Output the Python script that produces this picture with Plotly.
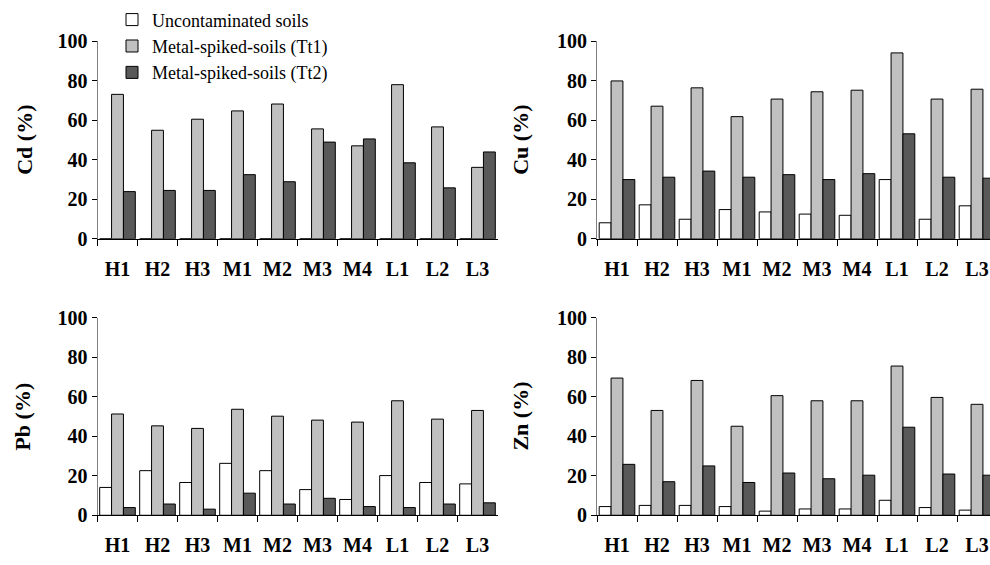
import plotly.graph_objects as go

categories = ["H1", "H2", "H3", "M1", "M2", "M3", "M4", "L1", "L2", "L3"]
series_names = ["Uncontaminated soils", "Metal-spiked-soils (Tt1)", "Metal-spiked-soils (Tt2)"]

cd_unc = [0, 0, 0, 0, 0, 0, 0, 0, 0, 0]
cd_tt1 = [73.2, 55.0, 60.6, 64.8, 68.3, 55.7, 47.1, 78.1, 56.7, 36.2]
cd_tt2 = [23.9, 24.5, 24.5, 32.5, 28.9, 49.0, 50.6, 38.5, 25.8, 44.0]

cu_unc = [8.1, 17.2, 9.9, 14.8, 13.6, 12.5, 11.9, 30.0, 9.9, 16.7]
cu_tt1 = [80.0, 67.2, 76.5, 61.9, 70.8, 74.5, 75.3, 94.2, 70.8, 75.8]
cu_tt2 = [30.0, 31.2, 34.3, 31.2, 32.5, 30.0, 33.0, 53.2, 31.2, 30.7]

pb_unc = [14.1, 22.6, 16.6, 26.3, 22.6, 13.0, 8.0, 20.1, 16.6, 15.9]
pb_tt1 = [51.3, 45.3, 44.0, 53.7, 50.2, 48.2, 47.2, 58.0, 48.7, 53.1]
pb_tt2 = [3.9, 5.7, 3.1, 11.2, 5.7, 8.6, 4.4, 3.9, 5.7, 6.3]

zn_unc = [4.4, 5.0, 5.0, 4.4, 2.1, 3.2, 3.2, 7.6, 3.9, 2.6]
zn_tt1 = [69.5, 53.1, 68.3, 45.1, 60.6, 58.0, 58.0, 75.6, 59.7, 56.2]
zn_tt2 = [25.8, 17.0, 25.0, 16.6, 21.4, 18.5, 20.3, 44.6, 20.9, 20.3]

y_titles = ["Cd (%)", "Cu (%)", "Pb (%)", "Zn (%)"]
colors = ["#FFFFFF", "#C0C0C0", "#595959"]

W, H = 990, 565
FONT = "Liberation Serif"

panels = [
    (cd_unc, cd_tt1, cd_tt2),
    (cu_unc, cu_tt1, cu_tt2),
    (pb_unc, pb_tt1, pb_tt2),
    (zn_unc, zn_tt1, zn_tt2),
]

fig = go.Figure()
for i, vals in enumerate(panels):
    ax = "" if i == 0 else str(i + 1)
    for j, v in enumerate(vals):
        fig.add_trace(go.Bar(
            x=categories, y=v, name=series_names[j],
            marker=dict(color=colors[j], line=dict(color="black", width=1)),
            xaxis="x" + ax, yaxis="y" + ax,
            showlegend=(i == 0), legendgroup=series_names[j],
            hoverinfo="x+y",
        ))

left_dom = [97.5 / W, 497.5 / W]
right_dom = [597 / W, 1.0]
top_dom = [1 - 237 / H, 1 - 31.7 / H]
bot_dom = [1 - 524.7 / H, 1 - 319.3 / H]
right_range = [-0.5, -0.5 + (W - 597) / 40.0]

xcommon = dict(
    type="category", tickson="boundaries", ticks="outside", ticklen=6,
    tickcolor="black", showline=True, linecolor="black", linewidth=1,
    showgrid=False, zeroline=False,
    tickfont=dict(family=FONT, size=20, color="black", weight="bold"),
    ticklabelstandoff=12,
)
ycommon = dict(
    range=[0, 100], tick0=0, dtick=20, ticks="outside", ticklen=5,
    tickcolor="black", showline=True, linecolor="#808080", linewidth=1,
    showgrid=False, zeroline=False,
    tickfont=dict(family=FONT, size=20, color="black", weight="bold"),
)

layout = dict(
    width=W, height=H, margin=dict(l=0, r=0, t=0, b=0),
    paper_bgcolor="white", plot_bgcolor="white",
    barmode="group", bargap=0.11, bargroupgap=0,
    showlegend=True,
    legend=dict(
        x=112 / W, y=1 + 10 / H, xanchor="left", yanchor="top",
        bgcolor="rgba(0,0,0,0)", borderwidth=0,
        font=dict(family=FONT, size=18, color="black"),
        tracegroupgap=0,
    ),
    font=dict(family=FONT, color="black"),
)
doms = [(left_dom, top_dom), (right_dom, top_dom), (left_dom, bot_dom), (right_dom, bot_dom)]
for i, (dx, dy) in enumerate(doms):
    ax = "" if i == 0 else str(i + 1)
    xa = dict(xcommon, domain=dx, anchor="y" + ax)
    xa["range"] = [-0.5, 9.5] if dx is left_dom else right_range
    layout["xaxis" + ax] = xa
    layout["yaxis" + ax] = dict(ycommon, domain=dy, anchor="x" + ax)

fig.update_layout(**layout)

title_pos = [(25, 134), (521, 134), (23, 422), (521, 422)]
for t, (px, py) in zip(y_titles, title_pos):
    fig.add_annotation(
        text=t, xref="paper", yref="paper", x=px / W, y=1 - py / H,
        xanchor="center", yanchor="middle", textangle=-90, showarrow=False,
        font=dict(family=FONT, size=22, color="black", weight="bold"),
    )

fig.write_html("out.html")
